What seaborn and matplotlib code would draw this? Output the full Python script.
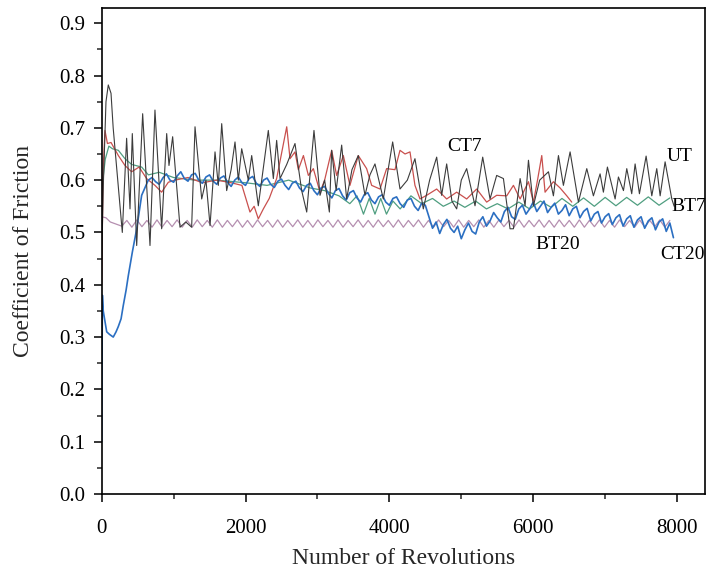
import numpy as np
import matplotlib
matplotlib.use("Agg")
import matplotlib.pyplot as plt
from matplotlib.ticker import MultipleLocator, FormatStrFormatter
import seaborn as sns

# UT (grey) - read peak / trough points
ut_x = [0, 25, 60, 92, 130, 160, 287, 347, 394, 426, 487, 570, 672, 741, 834, 904, 936,
        987, 1089, 1170, 1251, 1298, 1391, 1450, 1507, 1576, 1622, 1669, 1738, 1800, 1854,
        1900, 1947, 2039, 2086, 2178, 2317, 2387, 2433, 2480, 2573, 2688, 2781, 2851, 2952,
        3036, 3100, 3166, 3198, 3260, 3337, 3406, 3480, 3568, 3661, 3730, 3800, 3916, 4046,
        4148, 4250, 4356, 4472, 4560, 4658, 4727, 4797, 4870, 4936, 5000, 5075, 5191, 5298,
        5400, 5492, 5586, 5678, 5725, 5818, 5887, 5934, 6003, 6090, 6212, 6281, 6351, 6420,
        6513, 6629, 6745, 6837, 6930, 6976, 7032, 7139, 7185, 7255, 7301, 7370, 7417, 7477,
        7570, 7649, 7718, 7765, 7834, 7927, 7960]
ut_y = [0.45, 0.60, 0.75, 0.782, 0.766, 0.70, 0.50, 0.68, 0.545, 0.689, 0.475, 0.727, 0.475,
        0.734, 0.507, 0.689, 0.628, 0.683, 0.51, 0.52, 0.51, 0.702, 0.564, 0.60, 0.513, 0.654,
        0.59, 0.708, 0.58, 0.62, 0.673, 0.60, 0.66, 0.60, 0.647, 0.551, 0.695, 0.603, 0.676,
        0.603, 0.63, 0.670, 0.58, 0.539, 0.695, 0.571, 0.60, 0.539, 0.657, 0.58, 0.667, 0.564,
        0.62, 0.647, 0.571, 0.61, 0.631, 0.564, 0.673, 0.583, 0.60, 0.641, 0.545, 0.60, 0.644,
        0.571, 0.631, 0.56, 0.545, 0.60, 0.622, 0.551, 0.644, 0.564, 0.609, 0.603, 0.507,
        0.507, 0.603, 0.551, 0.638, 0.551, 0.60, 0.616, 0.57, 0.647, 0.590, 0.654, 0.558,
        0.622, 0.570, 0.612, 0.577, 0.625, 0.564, 0.606, 0.58, 0.622, 0.574, 0.631, 0.574,
        0.646, 0.570, 0.622, 0.570, 0.635, 0.564, 0.55]

# CT7 (red)
ct7_x = [0, 20, 46, 80, 130, 232, 324, 417, 520, 625, 741, 834, 927, 1020, 1200, 1400,
         1600, 1800, 1950, 2062, 2120, 2178, 2248, 2330, 2433, 2573, 2619, 2688, 2735, 2805,
         2874, 2943, 3036, 3100, 3198, 3267, 3360, 3452, 3568, 3684, 3754, 3870, 3962, 4078,
         4148, 4218, 4287, 4356, 4426, 4519, 4658, 4797, 4936, 5075, 5214, 5353, 5492, 5632,
         5725, 5818, 5934, 6003, 6060, 6119, 6165, 6281, 6374, 6467, 6536]
ct7_y = [0.40, 0.62, 0.695, 0.67, 0.672, 0.647, 0.628, 0.616, 0.625, 0.603, 0.59, 0.577,
         0.596, 0.60, 0.605, 0.595, 0.60, 0.595, 0.59, 0.539, 0.55, 0.526, 0.545, 0.565,
         0.603, 0.702, 0.641, 0.654, 0.62, 0.647, 0.609, 0.622, 0.577, 0.60, 0.657, 0.609,
         0.647, 0.59, 0.647, 0.622, 0.59, 0.583, 0.622, 0.62, 0.657, 0.65, 0.654, 0.59,
         0.564, 0.571, 0.583, 0.564, 0.577, 0.564, 0.583, 0.558, 0.571, 0.57, 0.59, 0.564,
         0.597, 0.558, 0.60, 0.647, 0.577, 0.597, 0.585, 0.57, 0.558]

# BT7 (green)
bt7_x = [0, 50, 100, 150, 232, 324, 417, 556, 650, 800, 1000, 1300, 1600, 2000, 2300, 2600,
         2900, 3100, 3300, 3450, 3550, 3640, 3720, 3800, 3880, 3960, 4050, 4150, 4300, 4450,
         4600, 4750, 4900, 5050, 5200, 5350, 5500, 5650, 5800, 5950, 6100, 6250, 6400, 6550,
         6700, 6850, 7000, 7150, 7300, 7450, 7600, 7750, 7900]
bt7_y = [0.58, 0.64, 0.665, 0.66, 0.657, 0.641, 0.63, 0.625, 0.61, 0.615, 0.605, 0.60,
         0.60, 0.595, 0.59, 0.60, 0.585, 0.58, 0.57, 0.555, 0.57, 0.535, 0.565, 0.535,
         0.565, 0.535, 0.56, 0.545, 0.57, 0.555, 0.565, 0.55, 0.56, 0.548, 0.56, 0.545,
         0.555, 0.545, 0.558, 0.545, 0.56, 0.548, 0.565, 0.55, 0.566, 0.55, 0.567, 0.551,
         0.567, 0.552, 0.568, 0.552, 0.566]

# BT20 (mauve wave)
bt20_y = [0.53, 0.528, 0.52, 0.516, 0.512,
          0.523, 0.510, 0.524, 0.511, 0.523, 0.510, 0.524, 0.510, 0.523, 0.511,
          0.524, 0.510, 0.523, 0.510, 0.524, 0.511, 0.523, 0.510, 0.524, 0.510,
          0.523, 0.511, 0.524, 0.510, 0.523, 0.510, 0.524, 0.511, 0.523, 0.510,
          0.524, 0.510, 0.523, 0.511, 0.524, 0.510, 0.523, 0.510, 0.524, 0.511,
          0.523, 0.510, 0.524, 0.510, 0.523, 0.511, 0.524, 0.510, 0.523, 0.510,
          0.524, 0.511, 0.523, 0.510, 0.524, 0.510, 0.523, 0.511, 0.524, 0.510,
          0.523, 0.510, 0.524, 0.511, 0.523, 0.510, 0.524, 0.510, 0.523, 0.511,
          0.524, 0.510, 0.523, 0.510, 0.524, 0.511, 0.523, 0.510, 0.524, 0.510,
          0.523, 0.511, 0.524, 0.510, 0.523, 0.510, 0.524, 0.511, 0.523, 0.510,
          0.524, 0.510, 0.523, 0.511, 0.524, 0.510, 0.523, 0.510, 0.524, 0.511,
          0.523, 0.510, 0.524, 0.510, 0.523, 0.511, 0.524, 0.510, 0.523]
bt20_x = np.concatenate([[0, 60, 120, 200], np.linspace(280, 7900, len(bt20_y) - 4)])

# CT20 (blue): run-in part, then readings every 50 revolutions from 700
ct20_start_x = [0, 10, 22, 70, 110, 161, 200, 231, 270, 300, 340, 370, 426, 487, 556, 600, 648]
ct20_start_y = [0.10, 0.38, 0.35, 0.31, 0.305, 0.30, 0.31, 0.32, 0.335, 0.36, 0.39, 0.417,
                0.462, 0.507, 0.571, 0.585, 0.60]
ct20_rest_y = [0.605, 0.597, 0.592, 0.604, 0.612, 0.600, 0.596, 0.608, 0.616, 0.603,
               0.598, 0.610, 0.613, 0.600, 0.594, 0.606, 0.610, 0.598, 0.592, 0.604,
               0.608, 0.596, 0.588, 0.600, 0.606, 0.595, 0.590, 0.603, 0.607, 0.594,
               0.588, 0.600, 0.604, 0.592, 0.586, 0.598, 0.602, 0.590, 0.582, 0.594,
               0.598, 0.585, 0.578, 0.590, 0.594, 0.580, 0.572, 0.585, 0.588, 0.575,
               0.566, 0.580, 0.584, 0.570, 0.562, 0.576, 0.580, 0.566, 0.558, 0.572,
               0.576, 0.562, 0.555, 0.568, 0.572, 0.558, 0.552, 0.565, 0.568, 0.555,
               0.548, 0.562, 0.565, 0.550, 0.542, 0.556, 0.552, 0.530, 0.508, 0.520,
               0.498, 0.515, 0.525, 0.508, 0.500, 0.512, 0.488, 0.505, 0.518, 0.502,
               0.497, 0.520, 0.530, 0.512, 0.522, 0.538, 0.528, 0.520, 0.540, 0.548,
               0.530, 0.525, 0.545, 0.552, 0.535, 0.545, 0.558, 0.540, 0.550, 0.560,
               0.538, 0.548, 0.556, 0.535, 0.542, 0.553, 0.532, 0.545, 0.550, 0.528,
               0.540, 0.546, 0.522, 0.535, 0.540, 0.518, 0.530, 0.536, 0.515, 0.528,
               0.534, 0.512, 0.526, 0.532, 0.510, 0.524, 0.530, 0.508, 0.522, 0.528,
               0.505, 0.520, 0.526, 0.502, 0.518, 0.490]
ct20_x = np.concatenate([ct20_start_x, np.arange(700, 700 + 50 * len(ct20_rest_y), 50)])
ct20_y = ct20_start_y + ct20_rest_y

labels = ["CT7", "UT", "BT7", "BT20", "CT20"]
label_x = [5050, 8040, 8160, 6340, 8070]
label_y = [0.665, 0.646, 0.550, 0.476, 0.457]

sns.set_theme(style="ticks")
plt.rcParams["font.family"] = ["Liberation Serif", "DejaVu Serif"]

fig = plt.figure(figsize=(7.07, 5.71), dpi=100)
ax = fig.add_axes([0.1438, 0.1349, 0.8535, 0.851])

sns.lineplot(x=bt20_x, y=bt20_y, color="#b58fb0", lw=0.9, estimator=None, ax=ax)
sns.lineplot(x=bt7_x, y=bt7_y, color="#4f9e80", lw=0.9, estimator=None, ax=ax)
sns.lineplot(x=ct7_x, y=ct7_y, color="#c9504e", lw=0.9, estimator=None, ax=ax)
sns.lineplot(x=ct20_x, y=ct20_y, color="#2b6fc2", lw=1.2, estimator=None, ax=ax)
sns.lineplot(x=ut_x, y=ut_y, color="#3c3c3c", lw=0.8, estimator=None, ax=ax)

for t, x, y in zip(labels, label_x, label_y):
    ax.text(x, y, t, fontsize=14, ha="center", va="center", color="black")

ax.set_xlim(0, 8390)
ax.set_ylim(0, 0.929)
ax.xaxis.set_major_locator(MultipleLocator(2000))
ax.xaxis.set_minor_locator(MultipleLocator(1000))
ax.yaxis.set_major_locator(MultipleLocator(0.1))
ax.yaxis.set_minor_locator(MultipleLocator(0.05))
ax.yaxis.set_major_formatter(FormatStrFormatter("%.1f"))
ax.tick_params(which="major", direction="out", length=6, width=1.1, labelsize=15, colors="black")
ax.tick_params(which="minor", direction="out", length=3.5, width=1.1)
ax.tick_params(axis="x", which="major", pad=12)
ax.tick_params(axis="y", which="major", pad=6)
for s in ax.spines.values():
    s.set_linewidth(1.2)
    s.set_color("black")

ax.set_xlabel("Number of Revolutions", fontsize=17, labelpad=7)
ax.set_ylabel("Coefficient of Friction", fontsize=17, labelpad=18)

fig.savefig("out.png", dpi=100)
